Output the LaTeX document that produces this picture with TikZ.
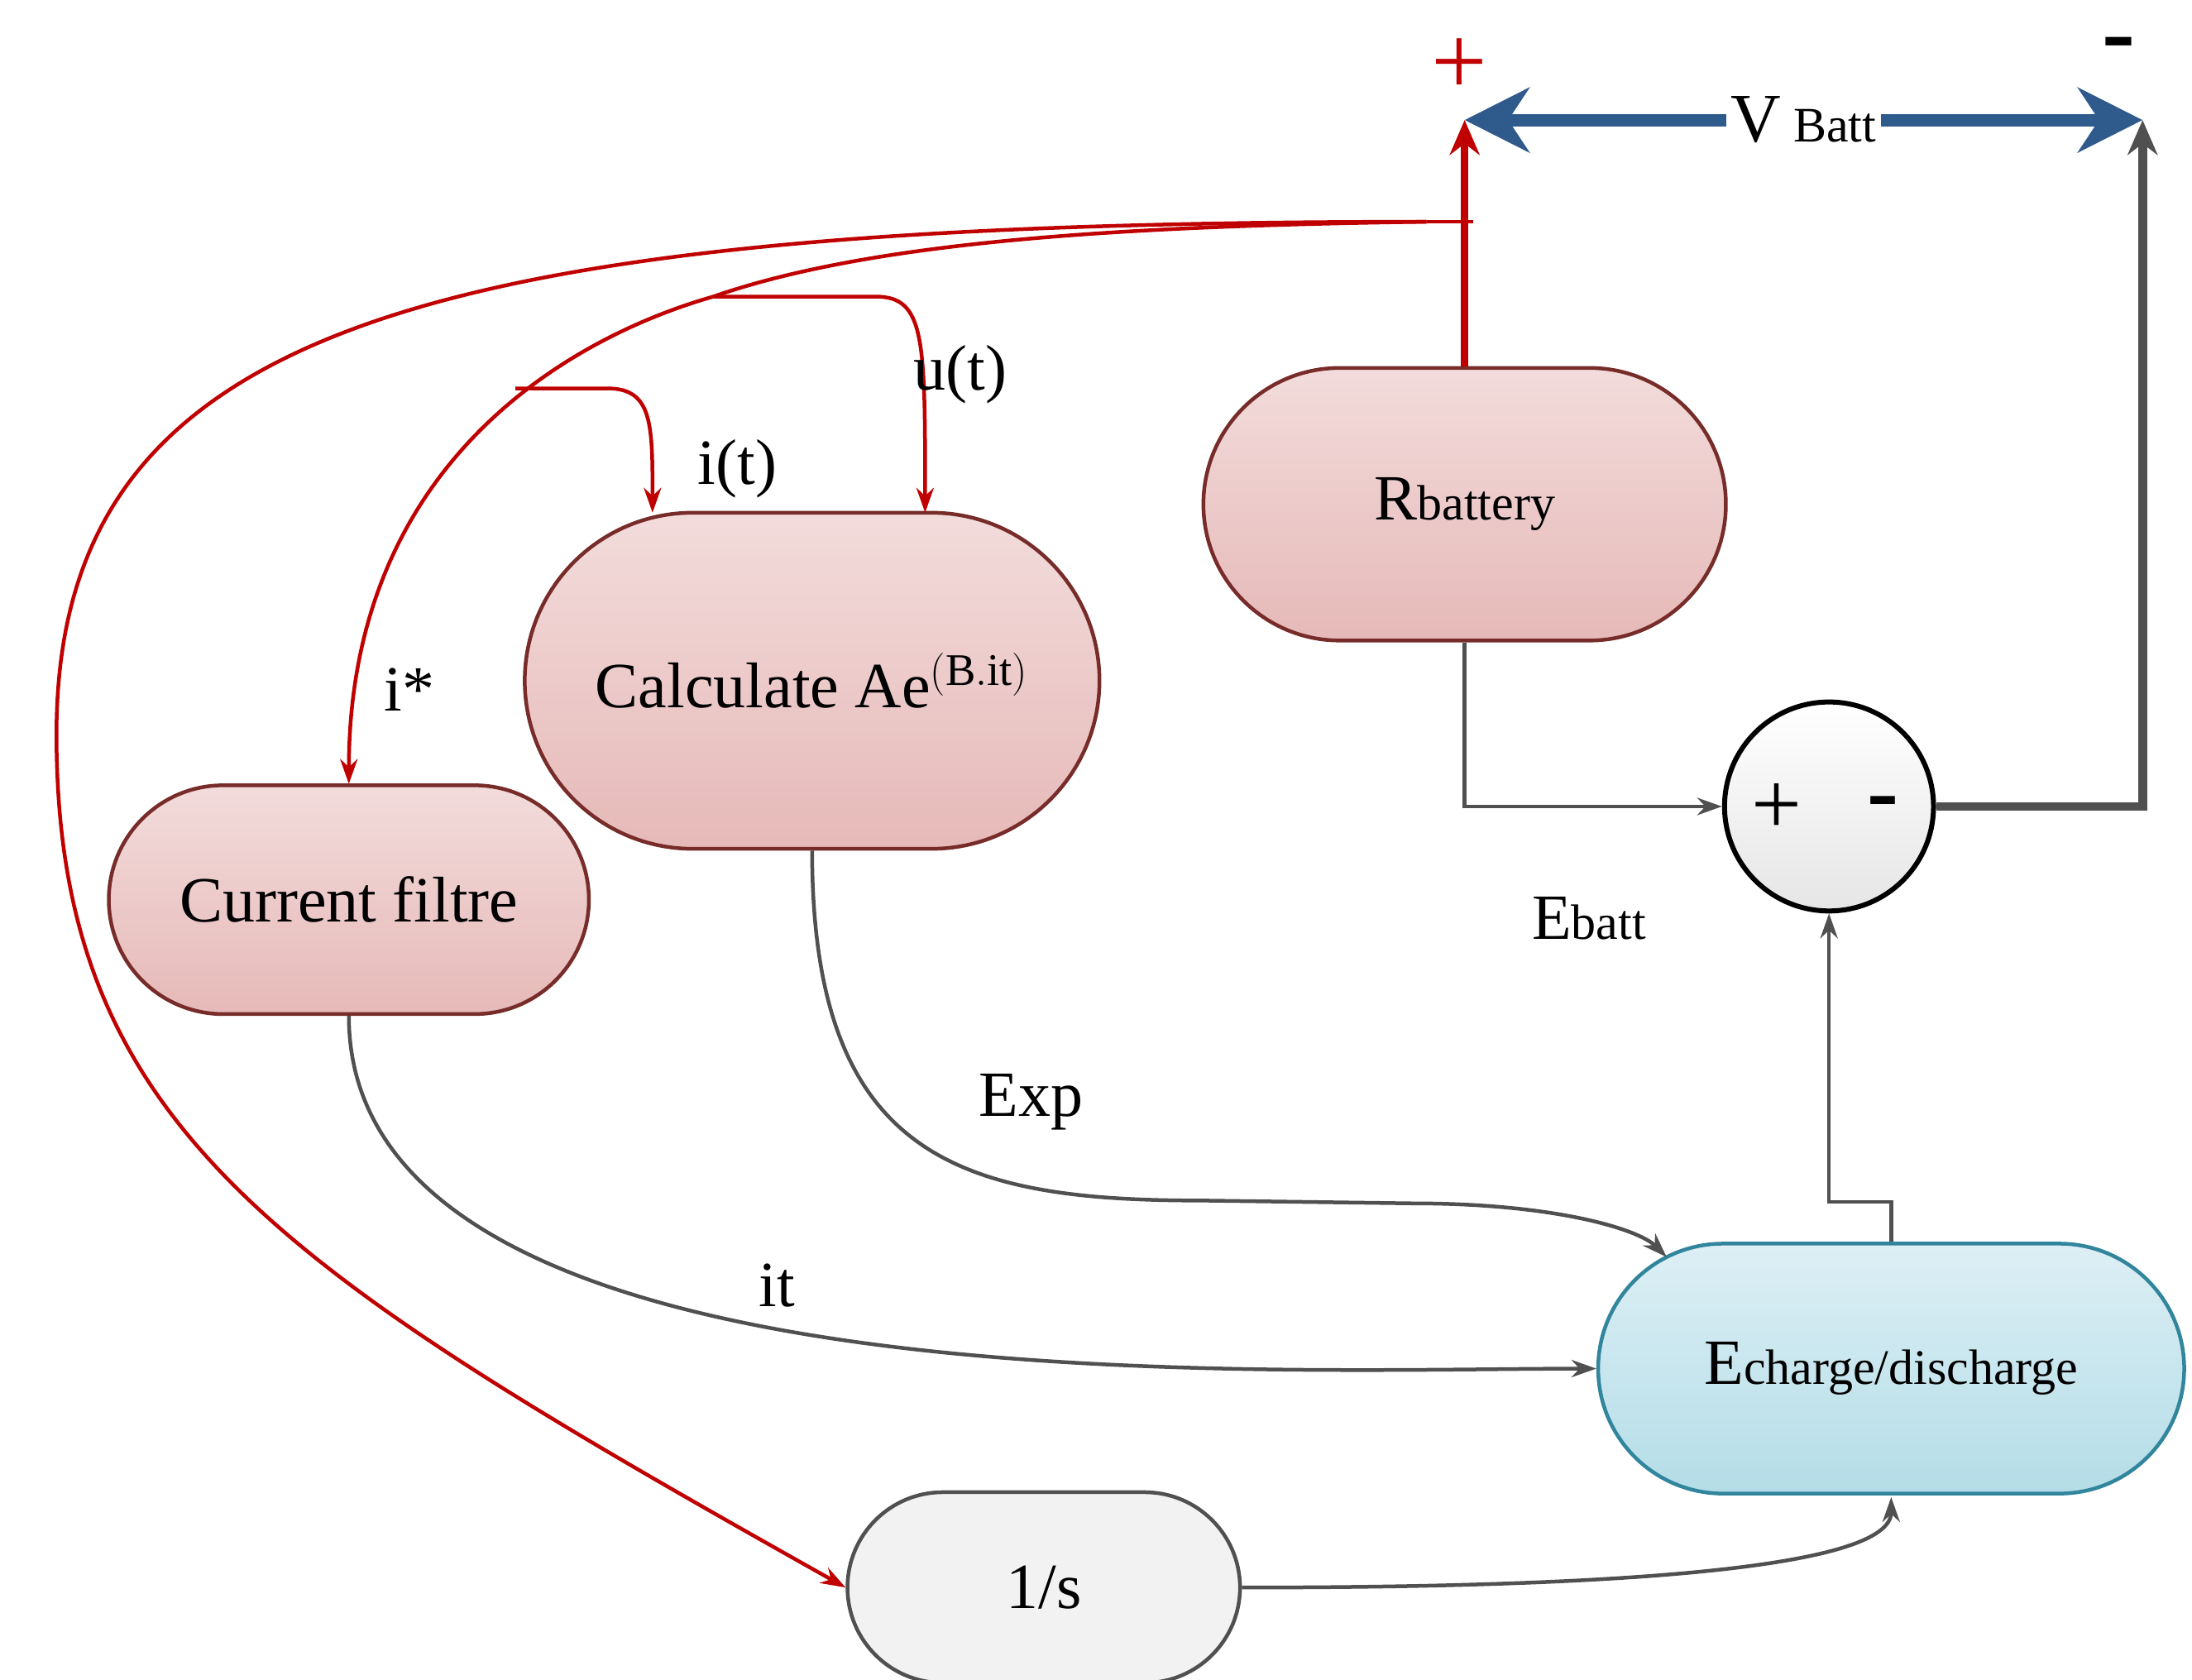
\documentclass[tikz,border=0pt]{standalone}
\usepackage{fontspec}
\setmainfont{Liberation Serif}
\usetikzlibrary{arrows.meta}
\definecolor{pinkT}{HTML}{F2DCDB}\definecolor{pinkB}{HTML}{E6B9B8}\definecolor{pinkD}{HTML}{772C2A}
\definecolor{bluT}{HTML}{DDEFF5}\definecolor{bluB}{HTML}{B4DDE7}\definecolor{bluD}{HTML}{31859C}
\definecolor{redL}{HTML}{C00000}\definecolor{navy}{HTML}{2F5A8C}\definecolor{grayL}{HTML}{505050}
\begin{document}
\begin{tikzpicture}[x=0.02cm,y=-0.02cm,
 lbl/.style={font=\fontsize{26}{30}\selectfont},
 pill/.style={draw=pinkD,line width=1.5pt,top color=pinkT,bottom color=pinkB,font=\fontsize{26}{30}\selectfont},
 redA/.style={draw=redL,line width=1.5pt,-{Stealth[length=10pt,width=7pt]}},
 redN/.style={draw=redL,line width=1.5pt},
 grayA/.style={draw=grayL,line width=1.5pt,-{Stealth[length=10pt,width=7pt]}},
 grayN/.style={draw=grayL,line width=1.5pt}]
\useasboundingbox (0,0) rectangle (1552,1189);
\node[pill,minimum width=7.4cm,minimum height=3.86cm,rounded corners=1.93cm] (rb) at (1037,357) {R{\fontsize{20}{24}\selectfont battery}};
\node[pill,minimum width=8.14cm,minimum height=4.76cm,rounded corners=2.38cm] (ca) at (575,482) {Calculate Ae$^{\mathrm{(B.it)}}$};
\node[pill,minimum width=6.8cm,minimum height=3.24cm,rounded corners=1.62cm] (cf) at (247,637) {Current filtre};
\node[draw=bluD,line width=1.5pt,top color=bluT,bottom color=bluB,minimum width=8.3cm,minimum height=3.54cm,rounded corners=1.77cm,font=\fontsize{26}{30}\selectfont] (ec) at (1339,969) {E{\fontsize{20}{24}\selectfont charge/discharge}};
\node[draw=grayL,line width=1.5pt,fill=black!5,minimum width=5.56cm,minimum height=2.7cm,rounded corners=1.35cm,font=\fontsize{26}{30}\selectfont] (is) at (739,1124) {1/s};
\node[draw=black,line width=2pt,circle,minimum size=2.96cm,top color=white,bottom color=black!10] (sum) at (1295,571) {};
\node[font=\fontsize{36}{36}\selectfont] at (1258,573) {+};
\node[font=\bfseries\fontsize{38}{38}\selectfont] at (1333,573) {-};
% top terminals
\coordinate (pp) at (1037,85); \coordinate (mm) at (1517,85);
\coordinate (tj) at (1043,157);
\draw[redL,line width=3pt,-{Stealth[length=14pt,width=12pt]}] (rb.north) -- (pp);
\node[text=redL,font=\fontsize{40}{40}\selectfont] at (1033,47) {+};
\node[inner sep=0pt,font=\bfseries\fontsize{40}{40}\selectfont] at (1500,36) {-};
\draw[navy,line width=5pt,{Stealth[length=26pt,width=26pt]}-{Stealth[length=26pt,width=26pt]}] (pp) -- (mm) node[midway,fill=white,inner sep=2pt,text=black,font=\fontsize{28}{30}\selectfont]{V{\fontsize{20}{24}\selectfont\ Batt}};
\coordinate (sr) at (1517,571);
\draw[grayL,line width=3.5pt,-{Stealth[length=14pt,width=12pt]}] (sum.east) -- (sr) -- (mm);
% gray connectors
\draw[grayA] (rb.south) |- (sum.west);
\draw[grayA] (ec.north) -- (1339,851) -| (sum.south);
\coordinate (ea) at (1180,890);
\draw[grayA] (ca.south) .. controls (575,820) and (680,850) .. (850,850) -- (1000,852) .. controls (1100,852) and (1160,870) .. (ea);
\draw[grayA] (cf.south) .. controls (247,1000) and (900,969) .. (ec.west);
\coordinate (eb) at (1339,1060);
\draw[grayA] (is.east) .. controls (1150,1124) and (1339,1110) .. (eb);
% red connectors
\coordinate (a1) at (505,210); \coordinate (a2) at (365,275);
\draw[redN] (tj) -- (1010,157);
\draw[redA] (1010,157) .. controls (300,157) and (40,230) .. (40,520) .. controls (40,800) and (200,900) .. (is.west);
\draw[redN] (1010,157) .. controls (800,160) and (620,170) .. (a1);
\draw[redA] (a1) .. controls (400,240) and (247,330) .. (247,555);
\draw[redA] (a1) -- (620,210) .. controls (655,210) and (655,240) .. (655,363);
\draw[redA] (a2) -- (430,275) .. controls (462,275) and (462,300) .. (462,363);
% labels
\node[lbl] at (680,265) {u(t)};
\node[lbl] at (522,332) {i(t)};
\node[lbl] at (290,488) {i*};
\node[lbl] at (1125,650) {E{\fontsize{20}{24}\selectfont batt}};
\node[lbl] at (730,780) {Exp};
\node[lbl] at (550,910) {it};
\end{tikzpicture}
\end{document}
